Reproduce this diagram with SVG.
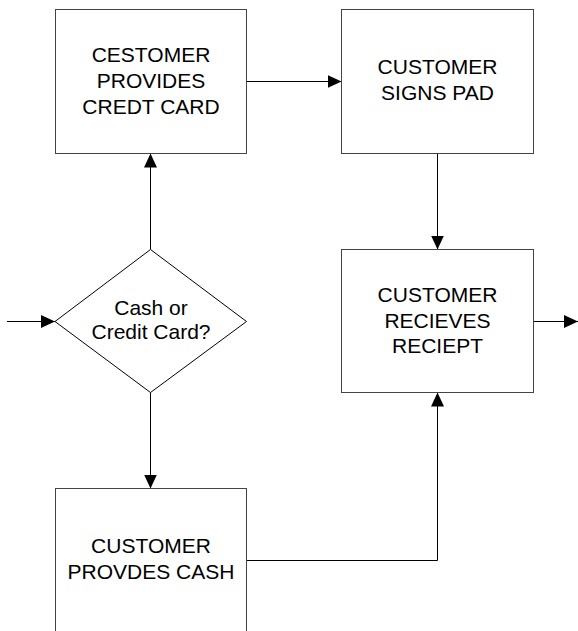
<svg xmlns="http://www.w3.org/2000/svg" width="578" height="631" viewBox="0 0 578 631">
<style>
.box{fill:#fff;stroke:#444;stroke-width:1}
.t{font-family:"Liberation Sans",Arial,sans-serif;font-size:21px;fill:#000;text-anchor:middle}
.c{fill:none;stroke:#000;stroke-width:1}
</style>
<defs>
<marker id="ah" viewBox="0 0 14 13" refX="14" refY="6.5" markerWidth="14" markerHeight="13" markerUnits="userSpaceOnUse" orient="auto">
<path d="M0,0 L14,6.5 L0,13 Z" fill="#000"/>
</marker>
</defs>
<rect width="578" height="631" fill="#fff"/>
<g id="connectors">
<path class="c" d="M7,321.5 H55" marker-end="url(#ah)"/>
<path class="c" d="M150.5,249.5 V153.5" marker-end="url(#ah)"/>
<path class="c" d="M150.5,392.5 V488.5" marker-end="url(#ah)"/>
<path class="c" d="M246.5,81.5 H341.5" marker-end="url(#ah)"/>
<path class="c" d="M437.5,153.5 V249.5" marker-end="url(#ah)"/>
<path class="c" d="M246.5,560.5 H437.5 V392.5" marker-end="url(#ah)"/>
<path class="c" d="M533.5,321.5 H578" marker-end="url(#ah)"/>
</g>
<g id="credit">
<rect class="box" x="55.5" y="9.5" width="191" height="144"/>
<text class="t" x="151" y="62">CESTOMER</text>
<text class="t" x="151" y="88">PROVIDES</text>
<text class="t" x="151" y="114">CREDT CARD</text>
</g>
<g id="sign">
<rect class="box" x="341.5" y="9.5" width="192" height="144"/>
<text class="t" x="437.5" y="74">CUSTOMER</text>
<text class="t" x="437.5" y="100">SIGNS PAD</text>
</g>
<g id="decision">
<polygon class="box" points="150.5,249.5 246.5,321.5 150.5,392.5 55,321.5" style="stroke:#000"/>
<text class="t" x="151" y="315">Cash or</text>
<text class="t" x="151" y="339">Credit Card?</text>
</g>
<g id="receipt">
<rect class="box" x="341.5" y="249.5" width="192" height="143"/>
<text class="t" x="437.5" y="302">CUSTOMER</text>
<text class="t" x="437.5" y="328">RECIEVES</text>
<text class="t" x="437.5" y="353">RECIEPT</text>
</g>
<g id="cash">
<rect class="box" x="55.5" y="488.5" width="191" height="160"/>
<text class="t" x="151" y="553">CUSTOMER</text>
<text class="t" x="151" y="579">PROVDES CASH</text>
</g>
</svg>
